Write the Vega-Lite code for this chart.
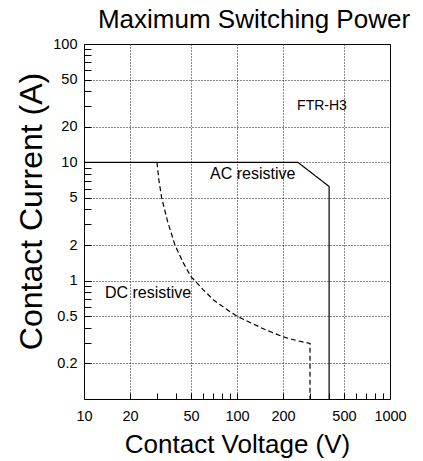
{
  "$schema": "https://vega.github.io/schema/vega-lite/v6.json",
  "width": 306,
  "height": 355,
  "autosize": {"type": "none"},
  "padding": {"left": 84, "top": 44, "right": 33, "bottom": 62},
  "title": {
    "text": "Maximum Switching Power",
    "fontSize": 26,
    "font": "Liberation Sans",
    "fontWeight": "normal",
    "color": "black",
    "frame": "group",
    "anchor": "middle",
    "baseline": "alphabetic",
    "offset": 15,
    "dx": 17,
    "dy": 33
  },
  "config": {
    "view": {"stroke": "black", "strokeWidth": 1},
    "font": "Liberation Sans"
  },
  "layer": [
    {
      "data": {
        "values": [
          {"series": "AC resistive", "ord": 1, "V": 10, "I": 10},
          {"series": "AC resistive", "ord": 2, "V": 250, "I": 10},
          {"series": "AC resistive", "ord": 3, "V": 400, "I": 6.25},
          {"series": "AC resistive", "ord": 4, "V": 400, "I": 0.1},
          {"series": "DC resistive", "ord": 1, "V": 30, "I": 10},
          {"series": "DC resistive", "ord": 2, "V": 30.9, "I": 7},
          {"series": "DC resistive", "ord": 3, "V": 32.2, "I": 5},
          {"series": "DC resistive", "ord": 4, "V": 35.1, "I": 3.2},
          {"series": "DC resistive", "ord": 5, "V": 39.3, "I": 2},
          {"series": "DC resistive", "ord": 6, "V": 44.5, "I": 1.42},
          {"series": "DC resistive", "ord": 7, "V": 50, "I": 1.08},
          {"series": "DC resistive", "ord": 8, "V": 53, "I": 1},
          {"series": "DC resistive", "ord": 9, "V": 60, "I": 0.84},
          {"series": "DC resistive", "ord": 10, "V": 70, "I": 0.69},
          {"series": "DC resistive", "ord": 11, "V": 85, "I": 0.575},
          {"series": "DC resistive", "ord": 12, "V": 100, "I": 0.5},
          {"series": "DC resistive", "ord": 13, "V": 150, "I": 0.39},
          {"series": "DC resistive", "ord": 14, "V": 200, "I": 0.335},
          {"series": "DC resistive", "ord": 15, "V": 250, "I": 0.31},
          {"series": "DC resistive", "ord": 16, "V": 300, "I": 0.295},
          {"series": "DC resistive", "ord": 17, "V": 300, "I": 0.1}
        ]
      },
      "mark": {"type": "line", "color": "black", "strokeWidth": 1.2},
      "encoding": {
        "x": {
          "field": "V",
          "type": "quantitative",
          "scale": {"type": "log", "domain": [10, 1000]},
          "axis": {
            "orient": "bottom",
            "values": [10, 20, 50, 100, 200, 500, 1000],
            "labelExpr": "format(datum.value, '~g')",
            "labelFlush": false,
            "labelOverlap": false,
            "grid": true,
            "gridColor": "#111",
            "gridDash": [1, 2],
            "gridWidth": 1,
            "ticks": false,
            "domain": false,
            "labelFont": "Liberation Sans",
            "labelFontSize": 14.5,
            "labelColor": "black",
            "labelPadding": 10,
            "title": "Contact Voltage (V)",
            "titleFont": "Liberation Sans",
            "titleFontSize": 26,
            "titleFontWeight": "normal",
            "titleColor": "black",
            "titleBaseline": "alphabetic",
            "titleY": 53
          }
        },
        "y": {
          "field": "I",
          "type": "quantitative",
          "scale": {"type": "log", "domain": [0.1, 100]},
          "axis": {
            "orient": "left",
            "values": [0.2, 0.5, 1, 2, 5, 10, 20, 50, 100],
            "labelExpr": "format(datum.value, '~g')",
            "labelFlush": false,
            "labelOverlap": false,
            "grid": true,
            "gridColor": "#111",
            "gridDash": [1, 2],
            "gridWidth": 1,
            "ticks": false,
            "domain": false,
            "labelFont": "Liberation Sans",
            "labelFontSize": 14.5,
            "labelColor": "black",
            "labelPadding": 7,
            "title": "Contact Current (A)",
            "titleFont": "Liberation Sans",
            "titleFontSize": 32,
            "titleFontWeight": "normal",
            "titleColor": "black",
            "titleBaseline": "alphabetic",
            "titleX": -43,
            "titleY": 167
          }
        },
        "detail": {"field": "series"},
        "order": {"field": "ord"},
        "strokeDash": {
          "field": "series",
          "type": "nominal",
          "scale": {"domain": ["AC resistive", "DC resistive"], "range": [[1, 0], [5, 3]]},
          "legend": null
        }
      }
    },
    {
      "data": {
        "values": [
          {"V": 66.7, "I": 7.9, "label": "AC resistive"},
          {"V": 13.7, "I": 0.79, "label": "DC resistive"}
        ]
      },
      "mark": {"type": "text", "align": "left", "baseline": "middle", "fontSize": 16, "font": "Liberation Sans", "color": "black"},
      "encoding": {
        "x": {
          "field": "V",
          "type": "quantitative",
          "axis": {
            "orient": "bottom",
            "values": [20, 30, 40, 50, 60, 70, 80, 90, 100, 200, 300, 400, 500, 600, 700, 800, 900],
            "labels": false,
            "grid": false,
            "domain": false,
            "ticks": true,
            "tickSize": 6,
            "tickColor": "black",
            "tickWidth": 1,
            "offset": -6,
            "title": null
          }
        },
        "y": {
          "field": "I",
          "type": "quantitative",
          "axis": {
            "orient": "left",
            "values": [0.2, 0.3, 0.4, 0.5, 0.6, 0.7, 0.8, 0.9, 1, 2, 3, 4, 5, 6, 7, 8, 9, 10, 20, 30, 40, 50, 60, 70, 80, 90],
            "labels": false,
            "grid": false,
            "domain": false,
            "ticks": true,
            "tickSize": 7,
            "tickColor": "black",
            "tickWidth": 1,
            "offset": -7,
            "title": null
          }
        },
        "text": {"field": "label"}
      }
    },
    {
      "data": {"values": [{"V": 247, "I": 30, "label": "FTR-H3"}]},
      "mark": {"type": "text", "align": "left", "baseline": "middle", "fontSize": 14, "font": "Liberation Sans", "color": "black"},
      "encoding": {
        "x": {"field": "V", "type": "quantitative", "axis": null},
        "y": {"field": "I", "type": "quantitative", "axis": null},
        "text": {"field": "label"}
      }
    }
  ],
  "resolve": {"axis": {"x": "independent", "y": "independent"}}
}
